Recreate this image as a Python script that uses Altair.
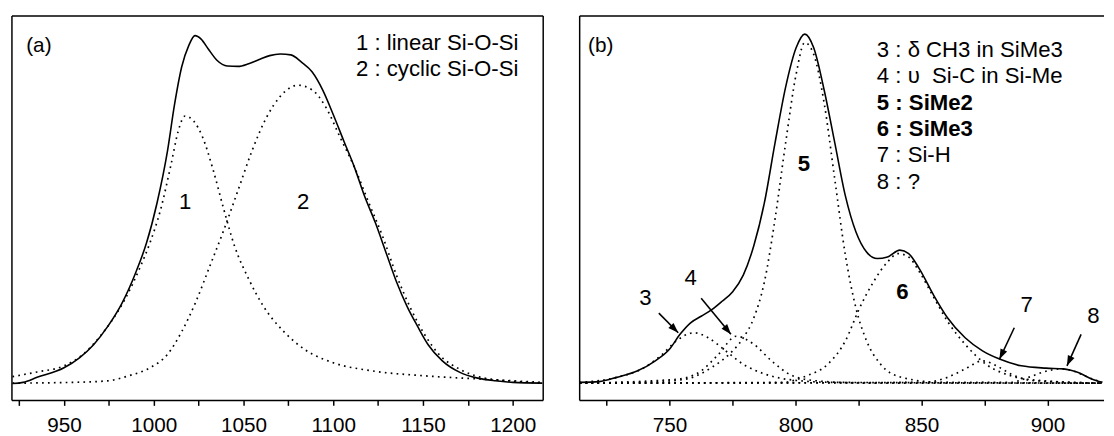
import math
import altair as alt
import pandas as pd

# ---------------- Panel (a) data ----------------
a_total_x = [921.3, 927.2, 935, 950, 958.6, 966.5, 974.3, 982.2, 990, 996, 1001.8, 1007.7, 1011.6, 1015.6,
             1019.5, 1023, 1026.4, 1030.3, 1035.2, 1041, 1047, 1052.9, 1058.8, 1064.6, 1070.5, 1076.4, 1082.3,
             1088.2, 1094.1, 1100, 1105.9, 1111.8, 1117.6, 1123.5, 1129.4, 1135.3, 1141.2, 1147.1, 1152.9,
             1160.8, 1170.6, 1180.5, 1190.3, 1200.1, 1216.5]
a_total_v = [4.4, 4.7, 6.0, 8.5, 11.1, 14.5, 19.2, 25.2, 33.3, 41, 51.3, 65, 77, 86.8,
             92.3, 94.9, 94, 91.5, 88.5, 87, 86.9, 87.6, 88.7, 89.7, 90.1, 89.9, 88,
             85.5, 80.8, 74.4, 67.5, 60.7, 53, 46.2, 38.5, 30.8, 24.4, 19.2, 14.5,
             10.3, 7.3, 5.8, 5.1, 4.7, 4.5]

a_c1_x = [921.3, 935, 950, 960.6, 968.5, 976.3, 984.2, 992, 997.9, 1003.8, 1009.7, 1013.6, 1017.5, 1022.4,
          1027.3, 1033.2, 1039.1, 1045, 1052.9, 1060.7, 1072.5, 1084.3, 1100, 1121.6, 1151, 1180.5, 1216.5]
a_c1_v = [6.2, 7.4, 9.0, 12, 15.8, 20.5, 26.5, 34.2, 41, 49.6, 61.5, 70, 74, 72.6,
          68.4, 59.8, 49.6, 40.2, 31.6, 24.8, 17.9, 13.2, 9.8, 7.7, 6.4, 5.6, 4.7]

a_c2_x = [921.3, 954.7, 974.3, 986, 997.9, 1007.7, 1015.6, 1023.4, 1031.3, 1039.1, 1047, 1054.8, 1062.7,
          1070.5, 1080.3, 1088.2, 1096.1, 1103.9, 1111.8, 1119.6, 1127.5, 1135.3, 1143.2, 1151, 1158.9,
          1170.6, 1184.4, 1200.1, 1216.5]
a_c2_v = [4.5, 4.7, 5.1, 6.4, 8.5, 12, 17.9, 25.6, 35, 44.4, 54.7, 65, 73.5,
          79.1, 82, 80.8, 76.1, 68.4, 60.7, 51.7, 42.7, 32.5, 23.9, 17.1, 12,
          8.1, 5.8, 5.0, 4.5]

a_peak_labels = ["1", "2"]
a_peak_x = [1017.5, 1083.3]
a_peak_v = [51.7, 51.7]

a_legend = ["1 : linear Si-O-Si", "2 : cyclic Si-O-Si"]

# ---------------- Panel (b) data ----------------
b_total_x = [714.4, 722.1, 729.1, 737.4, 744.4, 750, 754.2, 758.4, 762.6, 766.8, 770.9, 775.1, 779.3, 783.5,
             787.7, 791.9, 796.1, 800.3, 803.7, 807.2, 811.4, 815.6, 819.8, 824, 828.2, 832.4, 836.5, 841.4,
             844.9, 849.1, 854.7, 860.3, 867.3, 874.2, 881.2, 889.6, 899.4, 906.3, 911.9, 917.5, 921.7]
b_total_v = [4.7, 4.9, 6.0, 7.7, 10.3, 13.3, 17.2, 20.2, 21.9, 23.6, 25.8, 28.3, 32.6, 40.3,
             51.5, 67, 81.5, 91.8, 95.3, 91.8, 80.7, 67, 53.2, 43.8, 38.6, 36.9, 37.3, 39.1,
             38.2, 34.3, 27.5, 21.5, 16.3, 12.9, 10.7, 9.0, 8.4, 8.2, 7.3, 5.6, 4.7]

b_c3_x = [714.4, 729.1, 740.2, 747.2, 752.8, 759.8, 765.4, 772.3, 779.3, 787.7, 798.9, 815.6, 921.7]
b_c3_v = [4.7, 6.0, 8.6, 12, 15.5, 17.6, 16.3, 12.9, 9.4, 6.9, 5.3, 4.7, 4.5]

b_c4_x = [714.4, 745.8, 754.2, 762.6, 769.5, 776.5, 783.5, 790.5, 798.9, 810, 829.6, 921.7]
b_c4_v = [4.5, 5.2, 5.6, 7.7, 12, 16.7, 14.6, 10.3, 6.4, 5.0, 4.5, 4.5]

b_c5_x = [714.4, 745.8, 757, 766.8, 773.7, 779.3, 783.5, 787.7, 791.9, 796.1, 800.3, 803.7, 807.2, 811.4,
          815.6, 819.8, 824, 828.2, 833.8, 842.1, 857.5, 921.7]
b_c5_v = [4.5, 4.9, 5.6, 8.6, 12, 16.3, 21.5, 30.9, 47.2, 67, 85, 93.1, 90.1, 77.3,
          57.5, 37.8, 24, 15.5, 9.4, 6.0, 4.7, 4.5]

b_c6_x = [714.4, 794.7, 804.4, 812.8, 819.8, 825.4, 831, 836.5, 840.7, 844.9, 849.1, 854.7, 860.3, 867.3,
          875.6, 885.4, 896.6, 921.7]
b_c6_v = [4.5, 4.7, 6.4, 9.4, 15.5, 24, 30.9, 36, 38.2, 37.3, 33.5, 27, 20.6, 14.6,
          9.4, 6.4, 5.2, 4.5]

b_c7_x = [714.4, 850.5, 860.3, 867.3, 874.2, 879.8, 885.4, 893.7, 921.7]
b_c7_v = [4.5, 4.7, 6.0, 8.2, 10.3, 9.0, 6.9, 5.2, 4.5]

b_c8_x = [714.4, 885.4, 892.4, 899.4, 904.9, 910.5, 916.1, 921.7]
b_c8_v = [4.5, 4.7, 6.0, 7.6, 8.2, 7.6, 6.0, 4.7]

b_peak_labels = ["3", "4", "5", "6", "7", "8"]
b_peak_x = [740.5, 758.4, 803.3, 842.4, 891.7, 918.2]
b_peak_v = [26.6, 31.8, 61.4, 28.3, 24.9, 21.9]
b_peak_bold = [False, False, True, True, False, False]

# arrows: start (x, v) -> end (x, v)
b_arrow_x1 = [745.8, 762.6, 886.8, 913.3]
b_arrow_v1 = [22.7, 26.6, 18.9, 17.2]
b_arrow_x2 = [753.5, 774.4, 880.9, 907.7]
b_arrow_v2 = [17.6, 17.2, 10.7, 9.0]

b_legend = ["3 : δ CH3 in SiMe3", "4 : υ \u00a0Si-C in Si-Me", "5 : SiMe2", "6 : SiMe3", "7 : Si-H", "8 : ?"]
b_legend_bold = [False, False, True, True, False, False]

# ---------------- layout ----------------
FONT = "Liberation Sans"
H = 390
WA = 539
WB = 532
A_DOM = [921.0, 1217.0]
B_DOM = [714.4, 922.4]
A_TICKS = list(range(925, 1216, 25))
B_TICKS = list(range(725, 921, 25))
LINE_H = 26.7
TXT = 22.5


def curves_df(curves):
    rows = []
    for name, xs, vs in curves:
        for i, (x, v) in enumerate(zip(xs, vs)):
            rows.append({"curve": name, "x": x, "v": v, "i": i})
    return pd.DataFrame(rows)


def frame(W, right=True):
    d = alt.Data(values=[{"k": 0}])
    layers = [
        alt.Chart(d).mark_rule(color="black", strokeWidth=1.5).encode(
            x=alt.value(0), x2=alt.value(W), y=alt.value(0)),
        alt.Chart(d).mark_rule(color="black", strokeWidth=1.5).encode(
            x=alt.value(0), x2=alt.value(W), y=alt.value(H)),
        alt.Chart(d).mark_rule(color="black", strokeWidth=1.5).encode(
            x=alt.value(0), y=alt.value(0), y2=alt.value(H)),
    ]
    if right:
        layers.append(alt.Chart(d).mark_rule(color="black", strokeWidth=1.5).encode(
            x=alt.value(W), y=alt.value(0), y2=alt.value(H)))
    return layers


def panel(total, comps, dom, ticks):
    xs = alt.Scale(domain=dom, nice=False, zero=False)
    ys = alt.Scale(domain=[0, 100], nice=False, zero=False)
    axis = alt.Axis(values=ticks, labelExpr="datum.value % 50 == 0 ? format(datum.value, 'd') : ''",
                    domain=False, grid=False, tickSize=5, tickWidth=1.5, tickColor="black",
                    labelColor="black", labelFontSize=21, labelFont=FONT, labelPadding=10,
                    title=None, labelFlush=False, labelOverlap=False)
    df_total = curves_df([("total",) + total])
    df_comp = curves_df(comps)
    solid = alt.Chart(df_total).mark_line(color="black", strokeWidth=1.6, interpolate="monotone",
                                          clip=True).encode(
        x=alt.X("x:Q", scale=xs, axis=axis), y=alt.Y("v:Q", scale=ys, axis=None), order="i:Q")
    dotted = alt.Chart(df_comp).mark_line(color="black", strokeWidth=1.7, strokeDash=[1.7, 4.3],
                                          interpolate="monotone", clip=True).encode(
        x=alt.X("x:Q", scale=xs, axis=axis), y=alt.Y("v:Q", scale=ys, axis=None),
        detail="curve:N", order="i:Q")
    return xs, ys, [dotted, solid]


def legend_layer(texts, bolds, px, top, xs, ys, fs=TXT):
    df = pd.DataFrame({"t": texts, "row": list(range(len(texts))),
                       "w": ["bold" if b else "normal" for b in bolds]})
    calc = "100 - ({} + datum.row * {}) / {} * 100".format(top, LINE_H, H)
    out = []
    for w in ["normal", "bold"]:
        out.append(alt.Chart(df).transform_filter("datum.w == '{}'".format(w)).transform_calculate(
            yy=calc).mark_text(font=FONT, fontSize=fs, fontWeight=w, color="black",
                               baseline="alphabetic", align="left").encode(
            x=alt.value(px), y=alt.Y("yy:Q", scale=ys, axis=None), text="t:N"))
    return out


# ---- panel a ----
xa, ya, a_layers = panel((a_total_x, a_total_v),
                         [("c1", a_c1_x, a_c1_v), ("c2", a_c2_x, a_c2_v)], A_DOM, A_TICKS)
a_lab_df = pd.DataFrame({"t": a_peak_labels, "x": a_peak_x, "v": a_peak_v})
a_lab = alt.Chart(a_lab_df).mark_text(font=FONT, fontSize=TXT, color="black", baseline="middle",
                                      align="center").encode(
    x=alt.X("x:Q", scale=xa), y=alt.Y("v:Q", scale=ya, axis=None), text="t:N")
a_leg = legend_layer(a_legend, [False, False], 349, 34, xa, ya)
a_tag = alt.Chart(alt.Data(values=[{"t": "(a)"}])).mark_text(
    font=FONT, fontSize=21, color="black", baseline="alphabetic", align="left").encode(
    x=alt.value(14.5), y=alt.value(36.5), text="t:N")

chart_a = alt.layer(*a_layers, a_lab, *a_leg, a_tag, *frame(WA, True)).properties(width=WA, height=H)

# ---- panel b ----
xb, yb, b_layers = panel((b_total_x, b_total_v),
                         [("c3", b_c3_x, b_c3_v), ("c4", b_c4_x, b_c4_v), ("c5", b_c5_x, b_c5_v),
                          ("c6", b_c6_x, b_c6_v), ("c7", b_c7_x, b_c7_v), ("c8", b_c8_x, b_c8_v)],
                         B_DOM, B_TICKS)
b_lab_df = pd.DataFrame({"t": b_peak_labels, "x": b_peak_x, "v": b_peak_v,
                         "w": ["bold" if b else "normal" for b in b_peak_bold]})
b_labs = []
for w in ["normal", "bold"]:
    b_labs.append(alt.Chart(b_lab_df).transform_filter("datum.w == '{}'".format(w)).mark_text(
        font=FONT, fontSize=TXT, fontWeight=w, color="black", baseline="middle", align="center").encode(
        x=alt.X("x:Q", scale=xb), y=alt.Y("v:Q", scale=yb, axis=None), text="t:N"))

# arrows
sx = WB / (B_DOM[1] - B_DOM[0])
sy = H / 100.0
angles = []
for x1, v1, x2, v2 in zip(b_arrow_x1, b_arrow_v1, b_arrow_x2, b_arrow_v2):
    dx = (x2 - x1) * sx
    dy = -(v2 - v1) * sy
    angles.append(math.degrees(math.atan2(dx, -dy)) % 360)
arr_df = pd.DataFrame({"x1": b_arrow_x1, "v1": b_arrow_v1, "x2": b_arrow_x2, "v2": b_arrow_v2,
                       "ang": angles})
arr_line = alt.Chart(arr_df).mark_rule(color="black", strokeWidth=1.6).encode(
    x=alt.X("x1:Q", scale=xb), y=alt.Y("v1:Q", scale=yb, axis=None), x2="x2:Q", y2="v2:Q")
arr_head = alt.Chart(arr_df).mark_point(shape="M0,0L-0.7,2L0.7,2Z", filled=True, color="black",
                                        opacity=1, size=110, strokeWidth=0).encode(
    x=alt.X("x2:Q", scale=xb), y=alt.Y("v2:Q", scale=yb, axis=None),
    angle=alt.Angle("ang:Q", scale=alt.Scale(domain=[0, 360], range=[0, 360]), legend=None))

b_leg = legend_layer(b_legend, b_legend_bold, 301.5, 41.5, xb, yb)
b_tag = alt.Chart(alt.Data(values=[{"t": "(b)"}])).mark_text(
    font=FONT, fontSize=21, color="black", baseline="alphabetic", align="left").encode(
    x=alt.value(8.5), y=alt.value(36.5), text="t:N")

chart_b = alt.layer(*b_layers, *b_labs, arr_line, arr_head, *b_leg, b_tag,
                    *frame(WB, False)).properties(width=WB, height=H)

chart = alt.hconcat(chart_a, chart_b, spacing=33).properties(
    padding={"left": 2, "top": 3, "right": 0, "bottom": 0},
    background="white",
).configure_view(stroke="transparent")

chart.save("out.html", embed_options={"renderer": "svg", "actions": False})
